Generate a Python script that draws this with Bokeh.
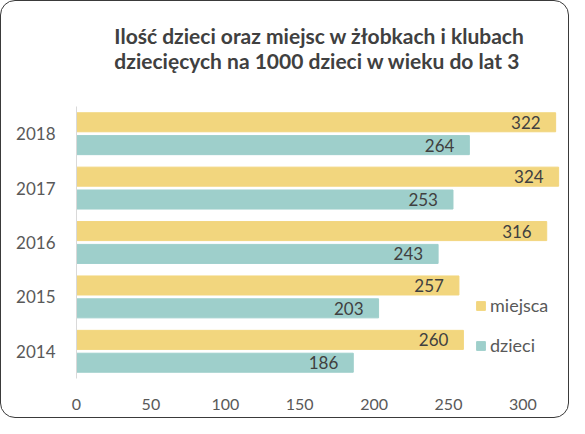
from bokeh.plotting import figure
from bokeh.models import ColumnDataSource, FactorRange, Legend, LegendItem
from bokeh.transform import dodge
from bokeh.core.properties import value
from bokeh.embed import file_html
from bokeh.resources import INLINE

years = ["2014", "2015", "2016", "2017", "2018"]
miejsca = [260, 257, 316, 324, 322]
dzieci = [186, 203, 243, 253, 264]
x_ticks = [0, 50, 100, 150, 200, 250, 300]
title_lines = ["Ilość dzieci oraz miejsc w żłobkach i klubach",
               "dziecięcych na 1000 dzieci w wieku do lat 3"]

YELLOW = "#F2D67E"
TEAL = "#9ECFCB"
TXT = "#595959"
DARK = "#404040"
FONT = "Lato"

src = ColumnDataSource(dict(year=years, miejsca=miejsca, dzieci=dzieci,
                            lm=[str(v) for v in miejsca], ld=[str(v) for v in dzieci]))

p = figure(width=569, height=418, y_range=FactorRange(factors=years, range_padding=0),
           x_range=(0, 326.6), output_backend="svg", toolbar_location=None,
           min_border_left=75, min_border_right=8,
           min_border_top=0, min_border_bottom=41)

p.styles = {"border": "1.5px solid #3a3a3a", "border-radius": "15px",
            "box-sizing": "border-box"}
p.border_fill_alpha = 0
p.background_fill_alpha = 0

p.title.text = "\n".join(title_lines)
p.title.align = "center"
p.title.text_font = FONT
p.title.text_font_size = "21px"
p.title.text_font_style = "bold"
p.title.text_color = DARK
p.title.text_line_height = 1.0
p.title.padding = dict(top=0, right=0, bottom=14, left=0)
p.title.standoff = 39

r1 = p.hbar(y=dodge("year", 0.21, range=p.y_range), right="miejsca", left=0,
            height=0.35, color=YELLOW, source=src)
r2 = p.hbar(y=dodge("year", -0.21, range=p.y_range), right="dzieci", left=0,
            height=0.35, color=TEAL, source=src)

p.text(x="miejsca", y=dodge("year", 0.21, range=p.y_range), text="lm", source=src,
       x_offset=-15, text_align="right", text_baseline="middle",
       text_font=value(FONT), text_font_size="17px", text_color=DARK)
p.text(x="dzieci", y=dodge("year", -0.21, range=p.y_range), text="ld", source=src,
       x_offset=-15, text_align="right", text_baseline="middle",
       text_font=value(FONT), text_font_size="17px", text_color=DARK)

legend = Legend(items=[LegendItem(label="miejsca", renderers=[r1]),
                       LegendItem(label="dzieci", renderers=[r2])],
                location=(399, 22), glyph_width=11, glyph_height=11,
                label_text_font=FONT, label_text_font_size="18px",
                label_text_color=TXT, spacing=18, padding=0, margin=0,
                border_line_color=None, background_fill_alpha=0,
                label_standoff=4)
p.add_layout(legend)

p.xaxis.ticker = x_ticks
p.xaxis.axis_line_color = None
p.xaxis.major_tick_line_color = None
p.xaxis.minor_tick_line_color = None
p.xaxis.major_label_text_font = FONT
p.xaxis.major_label_text_font_size = "16px"
p.xaxis.major_label_text_color = TXT
p.xaxis.major_label_standoff = 14

p.yaxis.axis_line_color = "#D9D9D9"
p.yaxis.major_tick_line_color = None
p.yaxis.minor_tick_line_color = None
p.yaxis.major_label_text_font = FONT
p.yaxis.major_label_text_font_size = "17px"
p.yaxis.major_label_text_color = TXT
p.yaxis.major_label_standoff = 15

p.xgrid.grid_line_color = None
p.ygrid.grid_line_color = None
p.outline_line_color = None

open("out.html", "w").write(file_html(p, INLINE))
